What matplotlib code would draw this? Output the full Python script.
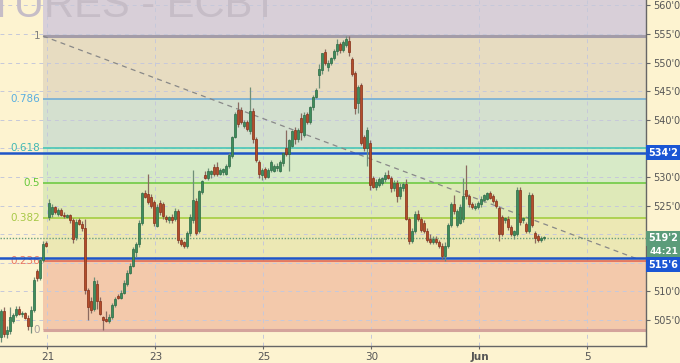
import numpy as np
import matplotlib
matplotlib.use('Agg')
import matplotlib.pyplot as plt
from matplotlib.ticker import FuncFormatter

# ── Hourly bars: (open, high, low, close), one list per session ──────────────
may18 = [
    (502.0, 507.0, 501.2, 506.5), (506.5, 507.2, 502.0, 502.6), (502.6, 504.0, 501.8, 503.2),
    (503.0, 507.2, 502.5, 505.6), (504.8, 506.2, 504.5, 505.9), (505.9, 507.5, 505.6, 507.0),
    (507.0, 507.5, 505.8, 506.0), (506.0, 506.6, 505.6, 506.2), (506.2, 506.4, 505.2, 505.4),
    (505.4, 505.8, 503.2, 504.0), (504.0, 507.5, 502.8, 506.8), (506.8, 512.5, 506.4, 512.0),
    (513.5, 514.0, 511.8, 512.3), (512.3, 515.8, 512.0, 515.5), (515.5, 518.8, 515.2, 518.2),
    (518.5, 518.8, 517.8, 518.0),
]
may21 = [
    (523.0, 526.2, 522.5, 525.4), (523.5, 525.2, 523.0, 524.8), (524.8, 525.0, 523.5, 523.8),
    (523.6, 524.6, 523.2, 524.3), (524.3, 524.5, 523.2, 523.4), (523.4, 523.8, 522.9, 523.1),
    (523.0, 523.6, 522.8, 523.3), (523.3, 523.5, 522.0, 522.4), (522.4, 522.8, 518.5, 519.2),
    (519.5, 522.6, 519.0, 522.2), (522.4, 522.8, 521.6, 521.8), (521.8, 522.3, 520.6, 521.0),
    (521.0, 522.7, 509.5, 510.2), (510.2, 510.6, 505.0, 507.2), (508.4, 509.0, 506.2, 506.8),
    (507.0, 512.5, 506.6, 511.8), (511.3, 512.0, 507.0, 508.4), (508.4, 509.0, 505.8, 506.0),
]
may22 = [
    (505.5, 505.7, 503.25, 505.0), (505.2, 506.5, 504.6, 504.8), (504.8, 506.0, 504.5, 505.5),
    (505.5, 508.0, 505.2, 507.6), (507.6, 509.0, 507.3, 508.7), (509.2, 509.5, 508.6, 508.9),
    (508.9, 510.2, 508.6, 509.8), (509.8, 512.0, 509.5, 511.5), (511.3, 513.8, 511.0, 513.2),
    (513.2, 515.0, 513.0, 514.5), (514.5, 517.8, 514.2, 517.4), (516.8, 518.6, 516.0, 518.3),
    (518.3, 522.5, 517.8, 522.0), (522.0, 527.4, 521.6, 527.2), (527.2, 527.8, 526.3, 526.5),
    (527.0, 530.5, 525.2, 525.6), (526.5, 527.0, 524.5, 525.0), (525.6, 526.0, 521.5, 522.0),
]
may23 = [
    (521.5, 525.3, 521.2, 524.8), (525.4, 526.0, 523.4, 523.8), (525.2, 525.6, 522.6, 523.2),
    (523.0, 523.4, 522.2, 522.6), (522.4, 523.2, 522.0, 523.0), (523.0, 523.5, 522.0, 522.4),
    (522.6, 524.5, 522.3, 524.0), (524.0, 524.4, 518.5, 519.0), (519.0, 519.4, 518.0, 518.3),
    (518.6, 518.8, 517.6, 518.0), (518.0, 520.6, 517.6, 520.2), (520.2, 523.5, 519.6, 523.0),
    (522.5, 531.2, 522.0, 526.0), (525.8, 526.3, 519.8, 520.2), (520.5, 527.8, 520.2, 527.5),
    (527.3, 529.5, 527.0, 529.3), (530.3, 531.0, 529.6, 529.8), (529.8, 531.5, 529.4, 531.0),
]
may24 = [
    (530.5, 531.3, 529.8, 531.0), (531.8, 532.3, 530.2, 530.6), (531.8, 532.6, 530.2, 530.6),
    (530.6, 531.5, 530.3, 531.2), (530.8, 531.6, 530.3, 531.4), (530.6, 532.2, 530.4, 531.9),
    (531.9, 534.2, 531.6, 533.8), (533.6, 537.2, 533.3, 537.0), (537.0, 541.4, 536.8, 541.0),
    (541.7, 543.2, 538.8, 539.2), (541.7, 542.2, 539.2, 539.6), (539.0, 540.0, 538.6, 539.6),
    (539.6, 540.0, 538.0, 538.4), (538.0, 545.8, 537.6, 541.5), (541.5, 542.0, 536.0, 536.6),
    (536.6, 537.0, 532.6, 533.0), (532.6, 533.0, 529.8, 530.6), (530.4, 531.6, 529.4, 531.2),
]
may25 = [
    (531.4, 531.8, 529.6, 530.0), (530.0, 531.6, 529.8, 531.2), (531.2, 533.0, 530.8, 532.6),
    (531.0, 532.3, 530.8, 532.0), (531.6, 532.4, 531.0, 532.0), (531.0, 533.0, 530.8, 532.6),
    (532.4, 534.4, 532.0, 534.2), (535.0, 538.3, 533.6, 534.0), (534.0, 536.6, 531.0, 536.4),
    (535.5, 538.3, 535.2, 538.0), (538.3, 538.7, 535.8, 536.6), (536.6, 538.6, 536.2, 538.2),
    (540.4, 541.2, 536.4, 537.8), (537.4, 541.3, 537.0, 540.8), (541.0, 541.4, 539.2, 539.6),
    (539.6, 542.4, 539.2, 542.2), (542.2, 544.4, 541.8, 544.0), (544.0, 545.6, 543.8, 545.2),
]
may29 = [
    (547.8, 549.8, 545.6, 548.8), (548.7, 551.6, 548.0, 551.6), (551.8, 552.4, 549.6, 550.0),
    (549.2, 550.4, 548.6, 550.0), (550.0, 551.0, 549.6, 550.8), (550.8, 552.4, 550.5, 552.0),
    (552.0, 554.2, 551.4, 553.3), (553.3, 553.6, 551.6, 552.2), (552.2, 554.0, 551.8, 553.6),
    (553.0, 554.65, 552.8, 554.2), (553.8, 554.65, 551.2, 551.8), (550.6, 551.0, 547.6, 548.0),
    (548.2, 548.6, 541.0, 542.0), (542.9, 546.0, 541.2, 545.8), (546.0, 546.4, 535.6, 536.0),
    (537.0, 537.4, 534.6, 535.0), (535.0, 538.8, 532.0, 538.2), (536.0, 536.4, 527.8, 528.6),
]
may30 = [
    (529.8, 530.2, 528.0, 528.2), (528.2, 529.6, 527.8, 529.2), (528.6, 530.0, 528.3, 529.6),
    (529.0, 530.0, 528.6, 529.8), (529.6, 530.8, 529.2, 530.4), (530.4, 531.2, 529.6, 529.8),
    (529.8, 530.2, 527.4, 528.0), (528.0, 529.4, 527.6, 529.0), (529.0, 529.4, 525.6, 526.6),
    (526.6, 529.0, 526.2, 528.2), (528.0, 529.2, 527.6, 528.8), (528.8, 529.6, 522.4, 522.6),
    (522.6, 523.0, 518.2, 518.8), (518.8, 521.0, 518.4, 520.6), (520.6, 524.0, 520.2, 523.6),
    (523.6, 524.3, 522.3, 522.6), (522.6, 523.0, 520.4, 520.8), (522.0, 522.4, 520.2, 520.6),
]
may31 = [
    (520.6, 521.0, 518.6, 519.0), (519.2, 520.0, 518.3, 518.6), (518.6, 519.6, 518.2, 519.2),
    (519.2, 519.6, 518.2, 518.6), (518.6, 519.0, 517.6, 518.0), (518.0, 518.4, 515.6, 516.2),
    (516.2, 518.6, 515.4, 518.0), (518.0, 522.0, 517.6, 521.6), (521.6, 525.6, 521.2, 525.2),
    (525.2, 526.8, 523.6, 524.0), (521.6, 524.4, 521.2, 524.0), (522.0, 525.2, 521.8, 524.8),
    (522.6, 529.8, 522.2, 526.6), (527.8, 532.1, 526.2, 526.6), (526.6, 527.0, 524.8, 525.2),
    (525.2, 525.6, 524.4, 524.8), (524.6, 525.4, 524.3, 525.0), (524.8, 525.8, 524.4, 525.4),
]
jun01 = [
    (525.2, 526.6, 524.8, 526.2), (526.0, 527.0, 525.6, 526.8), (526.2, 527.4, 526.0, 527.2),
    (527.2, 527.6, 526.2, 526.4), (526.6, 527.0, 525.4, 525.8), (525.8, 526.2, 524.6, 525.0),
    (524.6, 525.0, 518.8, 520.0), (523.0, 523.4, 519.6, 520.0), (522.4, 523.0, 522.0, 522.8),
    (522.6, 523.2, 520.8, 521.2), (521.2, 521.6, 519.6, 520.0), (519.8, 520.8, 519.2, 520.6),
    (520.0, 528.2, 519.6, 527.8), (527.8, 528.2, 521.6, 522.2), (522.4, 523.0, 522.0, 522.8),
    (521.8, 522.2, 520.2, 520.6), (520.6, 527.4, 520.2, 526.8), (526.8, 527.2, 521.2, 521.6),
]
jun04 = [
    (520.2, 520.6, 518.4, 519.4), (519.6, 520.0, 518.6, 518.9), (518.9, 519.6, 518.6, 519.4),
    (519.25, 519.6, 518.9, 519.25),
]
sessions = [may18, may21, may22, may23, may24, may25, may29, may30, may31, jun01, jun04]

# date axis (trading days counted from May 21)
tick_days = [0, 2, 4, 6, 8, 10]
tick_labels = ['21', '23', '25', '30', 'Jun', '5']
BARS_PER_DAY = 18

# fibonacci retracement tool
fib_levels = [0, 0.236, 0.382, 0.5, 0.618, 0.786, 1]
fib_low, fib_high = 503.25, 554.65
fib_anchor = 14          # bar where the tool starts
fib_line_col = ['#d4a49c', '#e0604c', '#9fcc36', '#66c83a', '#3cc4b4', '#6aaad8', '#a39ca8']
fib_text_col = ['#a8a0a0', '#e87462', '#a8c848', '#66c83a', '#42b8b4', '#5aaee0', '#808080']
fib_zone_col = ['#f3c9ab', '#ece8b4', '#dee9b8', '#d7eac7', '#d4e0cf', '#e7dcc1', '#d8cfd8']

# horizontal levels and price marks
levels = [534.25, 515.75]
level_tags = ["534'2", "515'6"]
last_price = 519.25
last_tag = "519'2"
countdown = '44:21'

# diagonal of the fib tool
trend_x = [14, 213]
trend_y = [554.65, 515.5]

# ── Figure ────────────────────────────────────────────────────────────────────
BG = '#fdf3d0'
fig = plt.figure(figsize=(6.8, 3.63), dpi=100, facecolor=BG)
ax = fig.add_axes([0, 17 / 363, 646 / 680, 346 / 363])
ax.set_facecolor(BG)

bars = np.array([b for s in sessions for b in s])
o, h, l, c = bars.T
x = np.arange(len(bars))
XMIN, XMAX = -0.33, 215
YMIN, YMAX = 500.45, 560.95
ax.set_xlim(XMIN, XMAX)
ax.set_ylim(YMIN, YMAX)

# grid
tick_pos = [len(may18) - 0.5 + BARS_PER_DAY * d for d in tick_days]
for tp in tick_pos:
    ax.axvline(tp, color='#c6c8da', lw=0.7, ls=(0, (4, 4)), zorder=1)
for yv in np.arange(505, 561, 5):
    ax.axhline(yv, color='#c6c8da', lw=0.7, ls=(0, (4, 4)), zorder=1)

# fib zones + lines
fib_prices = [fib_low + f * (fib_high - fib_low) for f in fib_levels]
bounds = fib_prices + [YMAX + 5]
for i in range(len(fib_zone_col)):
    ax.fill_between([fib_anchor, XMAX], bounds[i], bounds[i + 1],
                    color=fib_zone_col[i], lw=0, zorder=0)
for i, (f, p) in enumerate(zip(fib_levels, fib_prices)):
    lw = 2.2 if f in (0, 1) else 1.1
    ax.hlines(p, fib_anchor, XMAX, color=fib_line_col[i], lw=lw, zorder=2)
    ax.text(fib_anchor - 1.0, p, f'{f:g}', ha='right', va='center',
            fontsize=7.5, color=fib_text_col[i], zorder=2)

ax.plot(trend_x, trend_y, color='#888888', lw=0.9, ls=(0, (4, 3.5)), zorder=2.2)

# support / resistance + last price
for lv in levels:
    ax.axhline(lv, color='#1f55c8', lw=1.8, zorder=2.4)
ax.axhline(last_price, color='#6a9e7c', lw=1.0, ls=(0, (1, 1.2)), zorder=2.3)

# candles
up = c >= o
wick_col = np.where(up, '#6f8f78', '#8a6a60')
ax.vlines(x, l, h, colors=wick_col, lw=0.9, zorder=3)
body_h = np.maximum(np.abs(c - o), 0.2)
ax.bar(x[up], body_h[up], bottom=np.minimum(o, c)[up], width=0.8,
       color='#3e8d5d', edgecolor='#2c6a44', lw=0.5, zorder=4)
ax.bar(x[~up], body_h[~up], bottom=np.minimum(o, c)[~up], width=0.8,
       color='#b34d2b', edgecolor='#852f18', lw=0.5, zorder=4)

# axes styling
for s in ('left', 'top'):
    ax.spines[s].set_visible(False)
for s in ('right', 'bottom'):
    ax.spines[s].set_color('#666666')
    ax.spines[s].set_linewidth(1.0)

ax.yaxis.tick_right()
ax.set_yticks(np.arange(505, 561, 5))
covered = [535, 520, 515]   # grid values hidden under the price tags
ax.yaxis.set_major_formatter(FuncFormatter(
    lambda v, p: '' if any(abs(v - cv) < 0.1 for cv in covered) else f"{v:.0f}'0"))
ax.tick_params(axis='y', length=3, width=0.8, color='#666666',
               labelsize=7, labelcolor='#555555', pad=2)
ax.set_xticks(tick_pos)
ax.set_xticklabels(tick_labels)
ax.tick_params(axis='x', length=2.5, width=0.8, color='#666666',
               labelsize=7.5, labelcolor='#555555', pad=1.5)
for t in ax.get_xticklabels():
    if t.get_text() == 'Jun':
        t.set_fontweight('bold')

# price tags on the right
def tag(txt, price, fc, dy=0, dx=1.5, size=7):
    ax.annotate(txt, xy=(1, price), xycoords=('axes fraction', 'data'),
                xytext=(dx, dy), textcoords='offset points',
                ha='left', va='center', fontsize=size, color='white', fontweight='bold',
                bbox=dict(boxstyle='square,pad=0.25', fc=fc, ec='none'),
                annotation_clip=False, zorder=6)

tag(level_tags[0], levels[0], '#1b56d4')
tag(last_tag, last_price, '#5c9c7a')
tag(countdown, last_price, '#5c9c7a', dy=-9.5, dx=2.5, size=6.5)
tag(level_tags[1], levels[1], '#1b56d4', dy=-4.5)

# watermark (clipped by the top edge, as in the source)
ax.text(278 / 646, 1 - 17 / 346, 'FUTURES - ECBT', transform=ax.transAxes,
        ha='right', va='baseline', fontsize=30, color='#c6bdc7',
        family='Liberation Sans', zorder=1.5)

fig.savefig('out.png', dpi=100, facecolor=BG)
plt.close(fig)
